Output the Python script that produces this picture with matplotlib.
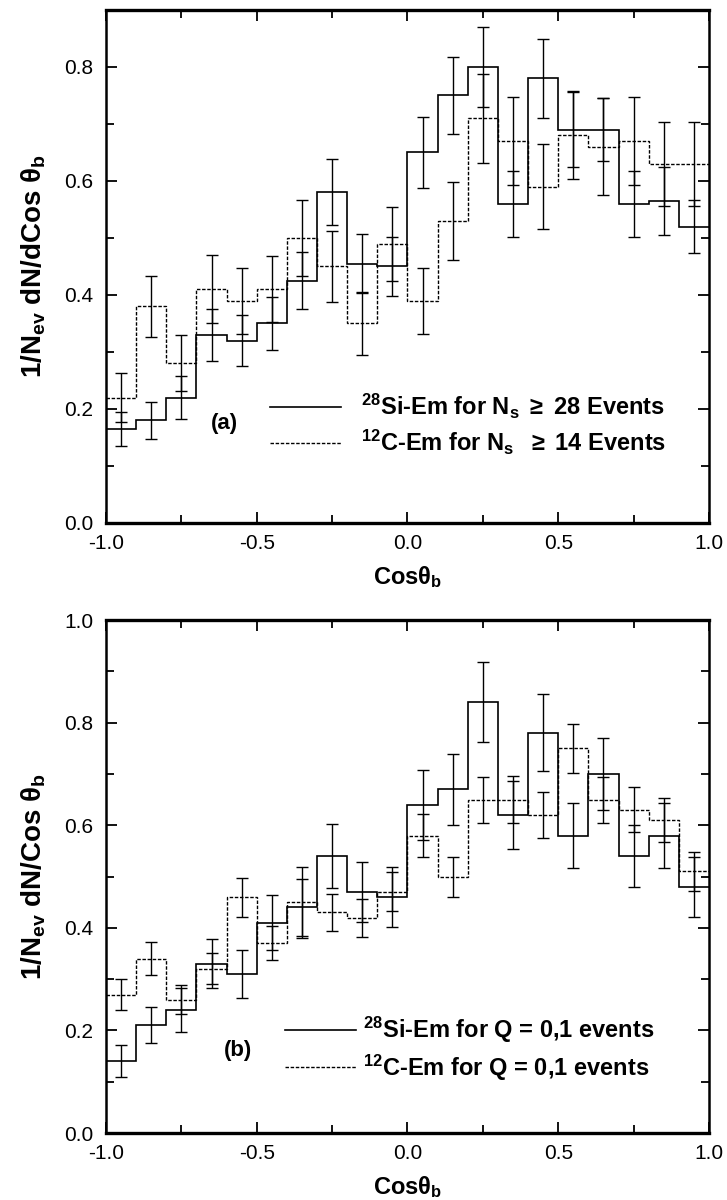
import numpy as np
import matplotlib
matplotlib.use('Agg')
import matplotlib.pyplot as plt
from matplotlib.lines import Line2D
from matplotlib.ticker import MultipleLocator

plt.rcParams['font.family'] = ['Liberation Sans', 'DejaVu Sans']
plt.rcParams['mathtext.fontset'] = 'custom'
plt.rcParams['mathtext.rm'] = 'Liberation Sans:bold'
plt.rcParams['mathtext.it'] = 'Liberation Sans:bold'
plt.rcParams['mathtext.bf'] = 'Liberation Sans:bold'

# bin edges of cos(theta_b)
edges = np.linspace(-1.0, 1.0, 21)

# panel (a): Ns >= 28 (Si) and Ns >= 14 (C)
si_a = [0.165, 0.18, 0.22, 0.33, 0.32, 0.35, 0.425, 0.58, 0.455, 0.45,
        0.65, 0.75, 0.80, 0.56, 0.78, 0.69, 0.69, 0.56, 0.565, 0.52]
si_a_err = [0.03, 0.033, 0.037, 0.045, 0.044, 0.046, 0.05, 0.058, 0.052, 0.052,
            0.063, 0.068, 0.07, 0.058, 0.069, 0.066, 0.055, 0.058, 0.06, 0.047]
c_a = [0.22, 0.38, 0.28, 0.41, 0.39, 0.41, 0.50, 0.45, 0.35, 0.49,
       0.39, 0.53, 0.71, 0.67, 0.59, 0.68, 0.66, 0.67, 0.63, 0.63]
c_a_err = [0.043, 0.054, 0.049, 0.06, 0.058, 0.058, 0.066, 0.062, 0.055, 0.065,
           0.058, 0.068, 0.078, 0.077, 0.075, 0.077, 0.085, 0.077, 0.074, 0.074]

# panel (b): Q = 0,1 events
si_b = [0.14, 0.21, 0.24, 0.33, 0.31, 0.41, 0.44, 0.54, 0.47, 0.46,
        0.64, 0.67, 0.84, 0.62, 0.78, 0.58, 0.70, 0.54, 0.58, 0.48]
si_b_err = [0.031, 0.035, 0.043, 0.048, 0.046, 0.054, 0.056, 0.063, 0.058, 0.059,
            0.068, 0.069, 0.078, 0.067, 0.075, 0.064, 0.071, 0.061, 0.064, 0.058]
c_b = [0.27, 0.34, 0.26, 0.32, 0.46, 0.37, 0.45, 0.43, 0.42, 0.47,
       0.58, 0.50, 0.65, 0.65, 0.62, 0.75, 0.65, 0.63, 0.61, 0.51]
c_b_err = [0.031, 0.032, 0.028, 0.03, 0.038, 0.033, 0.069, 0.036, 0.037, 0.038,
           0.042, 0.039, 0.045, 0.046, 0.044, 0.048, 0.045, 0.044, 0.043, 0.038]

centers = 0.5 * (edges[:-1] + edges[1:])

fig = plt.figure(figsize=(7.27, 12.0), dpi=100)
ax_a = fig.add_axes([0.1458, 0.5642, 0.8294, 0.4275])
ax_b = fig.add_axes([0.1458, 0.0558, 0.8294, 0.4275])


def draw_panel(ax, si, si_err, c, c_err, ymax, ylabel, labels, tag,
               leg_xy, tag_xy, textpad):
    ax.stairs(si, edges, baseline=None, color='k', lw=1.2)
    ax.stairs(c, edges, baseline=None, color='k', lw=1.0,
              linestyle=(0, (2.5, 1.2)))
    ax.errorbar(centers, si, yerr=si_err, fmt='none', ecolor='k',
                elinewidth=1.0, capsize=4, capthick=1.0)
    ax.errorbar(centers, c, yerr=c_err, fmt='none', ecolor='k',
                elinewidth=1.0, capsize=4, capthick=1.0)
    ax.set_xlim(-1, 1)
    ax.set_ylim(0, ymax)
    ax.xaxis.set_major_locator(MultipleLocator(0.5))
    ax.xaxis.set_minor_locator(MultipleLocator(0.25))
    ax.yaxis.set_major_locator(MultipleLocator(0.2))
    ax.yaxis.set_minor_locator(MultipleLocator(0.1))
    ax.xaxis.set_major_formatter(plt.FormatStrFormatter('%.1f'))
    ax.yaxis.set_major_formatter(plt.FormatStrFormatter('%.1f'))
    ax.tick_params(which='both', direction='in', top=True, right=True,
                   labelsize=15, width=1.3)
    ax.tick_params(which='major', length=8)
    ax.tick_params(which='minor', length=6)
    ax.tick_params(axis='x', pad=8)
    ax.tick_params(axis='y', pad=9)
    for s in ax.spines.values():
        s.set_linewidth(1.8)
    ax.spines['bottom'].set_linewidth(2.4)
    ax.spines['top'].set_linewidth(2.4)
    ax.set_xlabel(r'Cos$\theta_{\rm b}$', fontsize=17, fontweight='bold',
                  labelpad=8)
    ax.set_ylabel(ylabel, fontsize=20, fontweight='bold', labelpad=12)
    handles = [Line2D([], [], color='k', lw=1.2),
               Line2D([], [], color='k', lw=1.0, linestyle=(0, (2.5, 1.2)))]
    ax.legend(handles, labels, loc='upper left', bbox_to_anchor=leg_xy,
              frameon=False, borderpad=0, borderaxespad=0,
              handlelength=3.0, handletextpad=textpad,
              labelspacing=0.3, prop={'size': 17, 'weight': 'bold'})
    ax.text(tag_xy[0], tag_xy[1], tag, transform=ax.transAxes,
            fontsize=16, fontweight='bold', ha='center', va='center')


draw_panel(ax_a, si_a, si_a_err, c_a, c_a_err, 0.9,
           r'1/N$_{\rm ev}$ dN/dCos $\theta_{\rm b}$',
           [r'$^{28}$Si-Em for N$_{\rm s}$ $\geq$ 28 Events',
            r'$^{12}$C-Em for N$_{\rm s}$  $\geq$ 14 Events'],
           '(a)', (0.272, 0.255), (0.197, 0.193), 0.85)
draw_panel(ax_b, si_b, si_b_err, c_b, c_b_err, 1.0,
           r'1/N$_{\rm ev}$ dN/Cos $\theta_{\rm b}$',
           [r'$^{28}$Si-Em for Q = 0,1 events',
            r'$^{12}$C-Em for Q = 0,1 events'],
           '(b)', (0.297, 0.23), (0.219, 0.16), 0.3)

fig.savefig('out.png', dpi=100)
